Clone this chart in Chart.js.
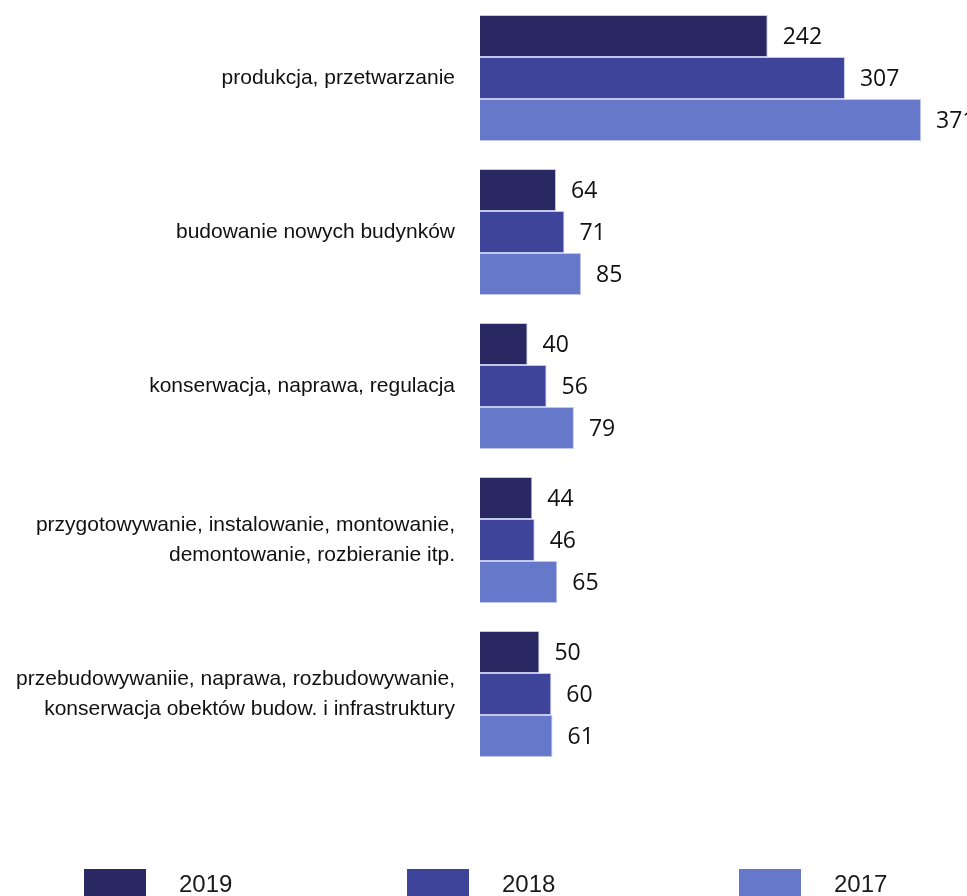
<!DOCTYPE html>
<html>
<head>
<meta charset="utf-8">
<script src="https://cdn.jsdelivr.net/npm/chart.js@4/dist/chart.umd.min.js"></script>
<style>
html,body{margin:0;padding:0;background:#fff;}
#wrap{width:967px;height:896px;position:relative;}
</style>
</head>
<body>
<div id="wrap"><canvas id="c"></canvas></div>
<script>
const categories = [
  "produkcja, przetwarzanie",
  "budowanie nowych budynków",
  "konserwacja, naprawa, regulacja",
  ["przygotowywanie, instalowanie, montowanie,", "demontowanie, rozbieranie itp."],
  ["przebudowywaniie, naprawa, rozbudowywanie,", "konserwacja obektów budow. i infrastruktury"]
];
const seriesNames = ["2019", "2018", "2017"];
const values2019 = [242, 64, 40, 44, 50];
const values2018 = [307, 71, 56, 46, 60];
const values2017 = [371, 85, 79, 65, 61];
const seriesColors = ["#2a2862", "#3d4499", "#6678ca"];

const valueLabels = {
  id: 'valueLabels',
  afterDatasetsDraw(chart) {
    const ctx = chart.ctx;
    ctx.save();
    ctx.font = '23px "Open Sans", "Noto Sans", sans-serif';
    ctx.fillStyle = '#111';
    ctx.textAlign = 'left';
    ctx.textBaseline = 'middle';
    chart.data.datasets.forEach((ds, i) => {
      const meta = chart.getDatasetMeta(i);
      meta.data.forEach((bar, j) => {
        ctx.fillText(String(ds.data[j]), bar.x + 15, bar.y + 1);
      });
    });
    ctx.restore();
  }
};

const bottomLegend = {
  id: 'bottomLegend',
  afterDraw(chart) {
    const ctx = chart.ctx;
    ctx.save();
    const xs = [84, 407, 739], boxW = 62, boxH = 30, top = 869;
    ctx.font = '24px "Liberation Sans", Arial, sans-serif';
    ctx.textBaseline = 'middle';
    ctx.textAlign = 'left';
    chart.data.datasets.forEach((ds, i) => {
      const x = xs[i];
      ctx.fillStyle = ds.backgroundColor;
      ctx.fillRect(x, top, boxW, boxH);
      ctx.fillStyle = '#1a1a1a';
      ctx.fillText(ds.label, x + 95, top + boxH / 2 + 1);
    });
    ctx.restore();
  }
};

const allValues = [values2019, values2018, values2017];
new Chart(document.getElementById('c'), {
  type: 'bar',
  data: {
    labels: categories,
    datasets: seriesNames.map((name, i) => ({
      label: name,
      data: allValues[i],
      backgroundColor: seriesColors[i],
      borderColor: '#c3c7ea',
      borderWidth: 1,
      categoryPercentage: 0.818,
      barPercentage: 1.0
    }))
  },
  options: {
    indexAxis: 'y',
    responsive: true,
    maintainAspectRatio: false,
    animation: false,
    layout: { padding: { top: 1, bottom: 125, right: 11.5, left: 0 } },
    plugins: {
      legend: { display: false },
      tooltip: { enabled: false }
    },
    scales: {
      x: {
        display: false,
        min: 0,
        max: 400
      },
      y: {
        grid: { display: false, drawTicks: false },
        border: { display: false },
        afterFit(scale) {
          scale.width = 480;
          scale.paddingTop = 0;
          scale.paddingBottom = 0;
        },
        ticks: {
          padding: 25,
          color: '#111',
          font: { family: '"Liberation Sans", Arial, sans-serif', size: 21, lineHeight: 1.43 }
        }
      }
    }
  },
  plugins: [valueLabels, bottomLegend]
});
</script>
</body>
</html>
